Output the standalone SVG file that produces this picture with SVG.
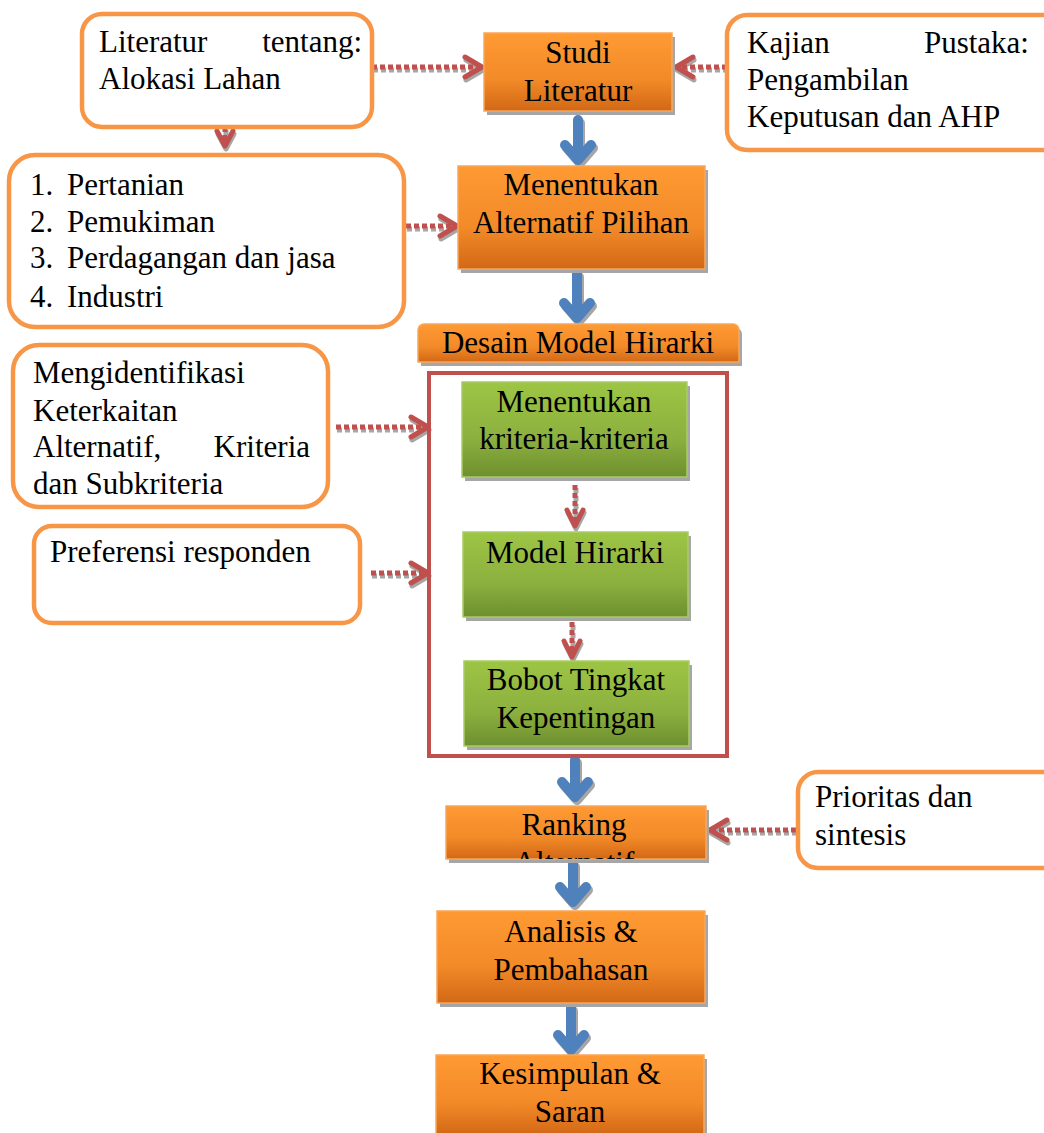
<svg xmlns="http://www.w3.org/2000/svg" width="1044" height="1133" viewBox="0 0 1044 1133">
<style>
text{font-family:"Liberation Serif","Times New Roman",serif;font-size:31px;fill:#000}
.c{text-anchor:middle}
.e{text-anchor:end}
.note{fill:#fff;stroke:#F79646;stroke-width:4.5}
.ob{fill:url(#og);stroke:#F9A65A;stroke-width:1.5}
.gb{fill:url(#gg);stroke:#A9CC66;stroke-width:1.5}
.sh{fill:#A6A6A6}
.rd{fill:none;stroke:#C0504D;stroke-width:5;stroke-dasharray:5 3}
.rds{fill:none;stroke:#A6A6A6;stroke-width:5;stroke-dasharray:5 3}
.rh{fill:none;stroke:#C0504D;stroke-width:5;stroke-linecap:round;stroke-linejoin:round}
.rhs{fill:none;stroke:#A6A6A6;stroke-width:5;stroke-linecap:round;stroke-linejoin:round}
.bl{fill:none;stroke:#4F81BD;stroke-width:10;stroke-linejoin:round;stroke-linecap:round}
.bls{fill:none;stroke:#A6A6A6;stroke-width:10;stroke-linejoin:round;stroke-linecap:round}
</style>
<defs>
<linearGradient id="og" x1="0" y1="0" x2="0" y2="1">
<stop offset="0" stop-color="#FF9A33"/>
<stop offset="0.6" stop-color="#F28A28"/>
<stop offset="1" stop-color="#D26816"/>
</linearGradient>
<linearGradient id="gg" x1="0" y1="0" x2="0" y2="1">
<stop offset="0" stop-color="#9DC544"/>
<stop offset="0.6" stop-color="#8CB03F"/>
<stop offset="1" stop-color="#6E8F2F"/>
</linearGradient>
<clipPath id="rk"><rect x="446" y="806" width="260" height="53"/></clipPath>
</defs>

<g id="connectors">
<g transform="translate(1,3)"><path class="rds" d="M372,67 H480"/><path class="rhs" d="M465,57 L482,67 L465,77"/></g>
<path class="rd" d="M372,67 H480"/><path class="rh" d="M465,57 L482,67 L465,77"/>
<g transform="translate(1,3)"><path class="rds" d="M727,67 H678"/><path class="rhs" d="M693,57 L676,67 L693,77"/></g>
<path class="rd" d="M727,67 H678"/><path class="rh" d="M693,57 L676,67 L693,77"/>
<g transform="translate(1,3)"><path class="rds" d="M225,119 V146"/><path class="rhs" d="M217,131 L225,146 L233,131"/></g>
<path class="rd" d="M225,119 V146"/><path class="rh" d="M217,131 L225,146 L233,131"/>
<g transform="translate(1,3)"><path class="rds" d="M406,226 H455"/><path class="rhs" d="M440,216 L457,226 L440,236"/></g>
<path class="rd" d="M406,226 H455"/><path class="rh" d="M440,216 L457,226 L440,236"/>
<g transform="translate(1,3)"><path class="rds" d="M336,427 H426"/><path class="rhs" d="M411,417 L428,427 L411,437"/></g>
<path class="rd" d="M336,427 H426"/><path class="rh" d="M411,417 L428,427 L411,437"/>
<g transform="translate(1,3)"><path class="rds" d="M371,573 H426"/><path class="rhs" d="M411,563 L428,573 L411,583"/></g>
<path class="rd" d="M371,573 H426"/><path class="rh" d="M411,563 L428,573 L411,583"/>
<g transform="translate(1,3)"><path class="rds" d="M575,485 V525"/><path class="rhs" d="M567,510 L575,526 L583,510"/></g>
<path class="rd" d="M575,485 V525"/><path class="rh" d="M567,510 L575,526 L583,510"/>
<g transform="translate(1,3)"><path class="rds" d="M572,622 V656"/><path class="rhs" d="M564,641 L572,657 L580,641"/></g>
<path class="rd" d="M572,622 V656"/><path class="rh" d="M564,641 L572,657 L580,641"/>
<g transform="translate(1,3)"><path class="rds" d="M796,830 H712"/><path class="rhs" d="M727,820 L710,830 L727,840"/></g>
<path class="rd" d="M796,830 H712"/><path class="rh" d="M727,820 L710,830 L727,840"/>

<g transform="translate(2,3)"><path class="bls" d="M578,120 V158 M565,145 L578,160 L591,145"/></g>
<path class="bl" d="M578,120 V158 M565,145 L578,160 L591,145"/>
<g transform="translate(2,3)"><path class="bls" d="M577,274 V316 M564,303 L577,318 L590,303"/></g>
<path class="bl" d="M577,274 V316 M564,303 L577,318 L590,303"/>
<g transform="translate(2,3)"><path class="bls" d="M575,760 V795 M562,782 L575,797 L588,782"/></g>
<path class="bl" d="M575,760 V795 M562,782 L575,797 L588,782"/>
<g transform="translate(2,3)"><path class="bls" d="M573,864 V900 M560,887 L573,902 L586,887"/></g>
<path class="bl" d="M573,864 V900 M560,887 L573,902 L586,887"/>
<g transform="translate(2,3)"><path class="bls" d="M571,1008 V1048 M558,1035 L571,1050 L584,1035"/></g>
<path class="bl" d="M571,1008 V1048 M558,1035 L571,1050 L584,1035"/>
</g>

<g id="n-literatur">
<rect class="note" x="82" y="14" width="290" height="113" rx="20"/>
<text x="99" y="52">Literatur</text><text class="e" x="362" y="52">tentang:</text>
<text x="99" y="89">Alokasi Lahan</text>
</g>

<g id="n-studi">
<rect class="sh" x="487" y="37" width="188" height="78"/>
<rect class="ob" x="484" y="33" width="188" height="78"/>
<text class="c" x="578" y="63">Studi</text>
<text class="c" x="578" y="101">Literatur</text>
</g>

<g id="n-kajian">
<rect class="note" x="727" y="15" width="340" height="135" rx="20"/>
<text x="747" y="53">Kajian</text><text class="e" x="1029" y="53">Pustaka:</text>
<text x="747" y="90">Pengambilan</text>
<text x="747" y="127">Keputusan dan AHP</text>
</g>

<g id="n-list">
<rect class="note" x="9" y="155" width="395" height="172" rx="26"/>
<text x="30" y="195">1.</text><text x="67" y="195">Pertanian</text>
<text x="30" y="232">2.</text><text x="67" y="232">Pemukiman</text>
<text x="30" y="268">3.</text><text x="67" y="268">Perdagangan dan jasa</text>
<text x="30" y="307">4.</text><text x="67" y="307">Industri</text>
</g>

<g id="n-alternatif">
<rect class="sh" x="461" y="170" width="247" height="103"/>
<rect class="ob" x="458" y="166" width="247" height="103"/>
<text class="c" x="581" y="195">Menentukan</text>
<text class="c" x="581" y="233">Alternatif Pilihan</text>
</g>

<g id="n-desain">
<path class="sh" d="M421,334 a6,6 0 0 1 6,-6 H736 a6,6 0 0 1 6,6 V366 H421 Z"/>
<path class="ob" d="M418,330 a6,6 0 0 1 6,-6 H733 a6,6 0 0 1 6,6 V362 H418 Z"/>
<text class="c" x="578" y="353">Desain Model Hirarki</text>
</g>

<g id="n-container">
<rect x="429" y="373" width="298" height="383" fill="none" stroke="#C0504D" stroke-width="4"/>
</g>

<g id="n-kriteria">
<rect class="sh" x="465" y="386" width="225" height="95"/>
<rect class="gb" x="462" y="382" width="225" height="95"/>
<text class="c" x="574" y="412">Menentukan</text>
<text class="c" x="574" y="449">kriteria-kriteria</text>
</g>

<g id="n-model">
<rect class="sh" x="466" y="536" width="225" height="85"/>
<rect class="gb" x="463" y="532" width="225" height="85"/>
<text class="c" x="575" y="563">Model Hirarki</text>
</g>

<g id="n-bobot">
<rect class="sh" x="467" y="665" width="225" height="85"/>
<rect class="gb" x="464" y="661" width="225" height="85"/>
<text class="c" x="576" y="690">Bobot Tingkat</text>
<text class="c" x="576" y="728">Kepentingan</text>
</g>

<g id="n-mengidentifikasi">
<rect class="note" x="13" y="345" width="315" height="162" rx="26"/>
<text x="33" y="383">Mengidentifikasi</text>
<text x="33" y="421">Keterkaitan</text>
<text x="33" y="457">Alternatif,</text><text class="e" x="310" y="457">Kriteria</text>
<text x="33" y="494">dan Subkriteria</text>
</g>

<g id="n-preferensi">
<rect class="note" x="34" y="526" width="326" height="97" rx="18"/>
<text x="50" y="562">Preferensi responden</text>
</g>

<g id="n-ranking">
<rect class="sh" x="449" y="810" width="260" height="53"/>
<rect class="ob" x="446" y="806" width="260" height="53"/>
<g clip-path="url(#rk)">
<text class="c" x="574" y="835">Ranking</text>
<text class="c" x="574" y="873">Alternatif</text>
</g>
</g>

<g id="n-prioritas">
<rect class="note" x="798" y="772" width="270" height="96" rx="20"/>
<text x="815" y="807">Prioritas dan</text>
<text x="815" y="845">sintesis</text>
</g>

<g id="n-analisis">
<rect class="sh" x="440" y="915" width="268" height="92"/>
<rect class="ob" x="437" y="911" width="268" height="92"/>
<text class="c" x="571" y="942">Analisis &amp;</text>
<text class="c" x="571" y="980">Pembahasan</text>
</g>

<g id="n-kesimpulan">
<rect class="sh" x="439" y="1059" width="268" height="80"/>
<rect class="ob" x="436" y="1055" width="268" height="80"/>
<text class="c" x="570" y="1084">Kesimpulan &amp;</text>
<text class="c" x="570" y="1122">Saran</text>
</g>
</svg>
